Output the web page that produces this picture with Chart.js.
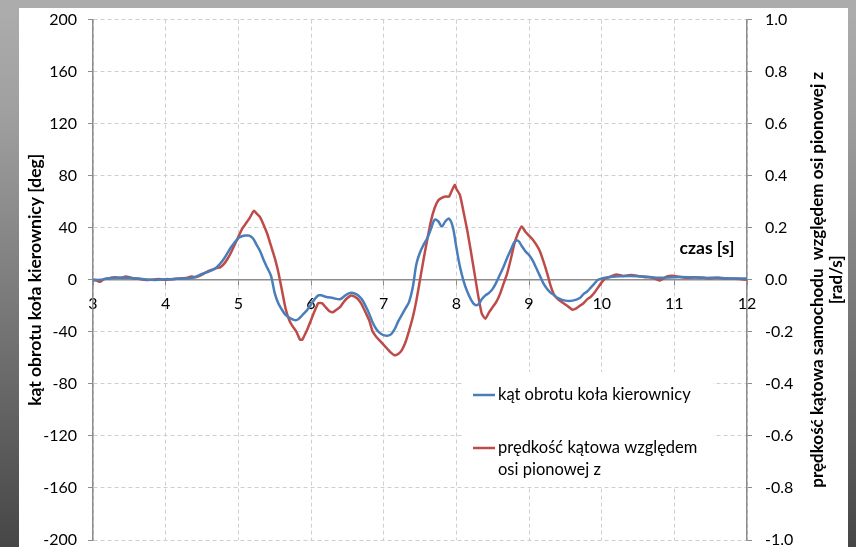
<!DOCTYPE html>
<html>
<head>
<meta charset="utf-8">
<script src="https://cdn.jsdelivr.net/npm/chart.js@4/dist/chart.umd.min.js"></script>
<style>
  html, body {
    margin: 0; padding: 0; width: 856px; height: 547px; overflow: hidden;
    background: linear-gradient(to bottom, #adadad 0%, #a0a0a0 20%, #7a7a7a 55%, #464646 100%);
  }
  #panel { position: absolute; left: 19px; top: 8px; width: 829px; height: 600px; background: #ffffff; }
  #wrap { position: absolute; left: 0; top: -3px; width: 856px; height: 570px; }
</style>
</head>
<body>
<div id="panel"></div>
<div id="wrap"><canvas id="c" width="856" height="570"></canvas></div>
<script>
// Steering wheel angle [deg] over time [s]
const steerTime = [3.0,3.1,3.2,3.3,3.4,3.5,3.6,3.7,3.8,3.9,4.0,4.1,4.2,4.3,4.4,4.5,4.6,4.7,4.8,4.9,
  5.0,5.05,5.1,5.15,5.2,5.25,5.3,5.35,5.4,5.45,5.5,5.55,5.6,5.65,5.7,5.75,5.8,5.85,5.9,5.95,
  6.0,6.05,6.1,6.15,6.2,6.3,6.4,6.45,6.5,6.55,6.6,6.65,6.7,6.75,6.8,6.85,6.9,6.95,
  7.0,7.05,7.1,7.15,7.2,7.25,7.3,7.35,7.4,7.45,7.5,7.55,7.6,7.65,7.7,7.75,7.8,7.85,7.9,7.95,
  8.0,8.05,8.1,8.15,8.2,8.25,8.3,8.35,8.4,8.45,8.5,8.55,8.6,8.65,8.7,8.75,8.8,8.85,8.9,8.95,
  9.0,9.05,9.1,9.15,9.2,9.25,9.3,9.35,9.4,9.5,9.6,9.7,9.75,9.8,9.85,9.9,9.95,
  10.0,10.1,10.2,10.4,10.6,10.8,11.0,11.2,11.4,11.6,11.8,12.0];
const steerAngle = [0,0,1,1.5,1.5,1.5,1,0.5,0,0,0.5,0.5,1,1,2,4.5,6.5,9.5,16,25,
  32,33.5,34,34,32,27,22,15,9,3,-10,-18,-23,-27,-29,-30.5,-31,-29,-26,-23,
  -19,-15,-12,-12,-13,-14,-15,-13,-11,-10,-10.5,-12,-15,-20,-26,-33,-38,-41,
  -42.5,-43,-42,-38,-32,-27,-22,-17,-6,12,21,27,32,39,46,45,41,45,47,41,
  25,10,-1,-9,-15,-19,-19,-15,-12,-10,-7,-2,4,10,17,23,29,30,26,22,
  19,15,9,3,-3,-7,-10,-12,-14,-16,-16,-14,-11,-9,-6,-3,0,
  1,2,2.5,3,2.5,1.5,2,2,1.5,1.5,1,1];

// Yaw rate about the vertical axis [rad/s] over time [s]
const yawTime = [3.0,3.05,3.1,3.15,3.2,3.25,3.3,3.35,3.4,3.45,3.5,3.55,3.6,3.7,3.8,3.9,
  4.0,4.1,4.2,4.3,4.35,4.4,4.45,4.5,4.55,4.6,4.65,4.7,4.75,4.8,4.85,4.9,4.95,
  5.0,5.05,5.1,5.15,5.2,5.22,5.25,5.3,5.35,5.4,5.45,5.5,5.55,5.6,5.65,5.7,5.75,5.8,5.85,5.88,5.9,5.95,
  6.0,6.05,6.1,6.15,6.2,6.25,6.3,6.35,6.4,6.45,6.5,6.55,6.6,6.65,6.7,6.75,6.8,6.85,6.9,6.95,
  7.0,7.05,7.1,7.15,7.2,7.25,7.3,7.35,7.4,7.45,7.5,7.55,7.6,7.65,7.7,7.75,7.8,7.85,7.9,7.95,7.98,
  8.0,8.05,8.1,8.15,8.2,8.25,8.3,8.35,8.4,8.45,8.5,8.55,8.6,8.65,8.7,8.75,8.8,8.85,8.9,8.95,
  9.0,9.05,9.1,9.15,9.2,9.25,9.3,9.35,9.4,9.45,9.5,9.55,9.6,9.65,9.7,9.75,9.8,9.85,9.9,9.95,
  10.0,10.05,10.1,10.2,10.3,10.4,10.5,10.6,10.7,10.8,10.9,
  11.0,11.1,11.2,11.3,11.4,11.5,11.6,11.7,11.8,11.9,12.0];
const yawRate = [0,-0.003,-0.008,0.003,0.005,0.008,0.01,0.008,0.008,0.013,0.01,0.005,0.005,0,0,0.003,
  0,0.003,0.005,0.008,0.013,0.01,0.013,0.02,0.028,0.035,0.04,0.045,0.048,0.06,0.08,0.105,0.135,
  0.165,0.195,0.215,0.235,0.26,0.265,0.255,0.24,0.21,0.175,0.13,0.085,0.03,-0.04,-0.11,-0.155,-0.18,-0.2,-0.23,-0.23,-0.22,-0.19,
  -0.155,-0.12,-0.09,-0.09,-0.105,-0.12,-0.125,-0.115,-0.105,-0.085,-0.07,-0.06,-0.065,-0.075,-0.095,-0.125,-0.155,-0.2,-0.22,-0.235,
  -0.25,-0.265,-0.28,-0.29,-0.285,-0.27,-0.24,-0.195,-0.145,-0.08,0,0.08,0.155,0.225,0.275,0.305,0.315,0.32,0.32,0.35,0.365,
  0.35,0.325,0.26,0.19,0.11,0.025,-0.06,-0.13,-0.15,-0.125,-0.105,-0.085,-0.055,-0.015,0.025,0.08,0.14,0.18,0.205,0.185,
  0.17,0.155,0.135,0.11,0.07,0.025,-0.025,-0.06,-0.075,-0.085,-0.095,-0.105,-0.115,-0.11,-0.1,-0.09,-0.075,-0.065,-0.05,-0.03,
  -0.01,0.005,0.01,0.02,0.015,0.018,0.015,0.01,0.008,-0.003,0.013,
  0.015,0.01,0.008,0.01,0.008,0.005,0.008,0.005,0.005,0.003,0];

const xTicks = [3,4,5,6,7,8,9,10,11,12];
const leftTicks = [-200,-160,-120,-80,-40,0,40,80,120,160,200];
const rightTicks = [-1.0,-0.8,-0.6,-0.4,-0.2,0.0,0.2,0.4,0.6,0.8,1.0];

const seriesNames = ['kąt obrotu koła kierownicy', 'prędkość kątowa względem', 'osi pionowej z'];
const xTitle = 'czas [s]';
const leftTitle = 'kąt obrotu koła kierownicy [deg]';
const rightTitle = ['prędkość kątowa samochodu  względem osi pionowej z', '[rad/s]'];

const BLUE = '#4a7ebb';
const RED = '#be4b48';
const FONT = 'Lato, "Open Sans", sans-serif';
const GRID = '#cfcfcf';
const AXIS = '#8c8c8c';

const steerPts = steerTime.map((t, i) => ({x: t, y: steerAngle[i]}));
const yawPts = yawTime.map((t, i) => ({x: t, y: yawRate[i]}));

// Axis titles and the boxed legend inside the plot
const decorations = {
  id: 'decorations',
  afterDraw(chart) {
    const ctx = chart.ctx;
    const area = chart.chartArea;
    const midY = (area.top + area.bottom) / 2;
    ctx.save();
    ctx.fillStyle = '#000';
    ctx.textBaseline = 'middle';

    // x title
    ctx.font = 'bold 17.5px ' + FONT;
    ctx.textAlign = 'center';
    ctx.fillText(xTitle, 707, 251);

    // left title
    ctx.save();
    ctx.translate(35, midY);
    ctx.rotate(-Math.PI / 2);
    ctx.fillText(leftTitle, 0, 0);
    ctx.restore();

    // right title (two lines)
    ctx.font = 'bold 17px ' + FONT;
    ctx.save();
    ctx.translate(818, midY);
    ctx.rotate(-Math.PI / 2);
    ctx.fillText(rightTitle[0], 0, 0);
    ctx.restore();
    ctx.save();
    ctx.translate(837, midY);
    ctx.rotate(-Math.PI / 2);
    ctx.fillText(rightTitle[1], 0, 0);
    ctx.restore();

    // legend box
    ctx.fillStyle = '#ffffff';
    ctx.fillRect(463, 375, 250, 115);
    ctx.lineWidth = 2.5;
    ctx.strokeStyle = BLUE;
    ctx.beginPath(); ctx.moveTo(473, 398); ctx.lineTo(495, 398); ctx.stroke();
    ctx.strokeStyle = RED;
    ctx.beginPath(); ctx.moveTo(473, 451); ctx.lineTo(495, 451); ctx.stroke();
    ctx.fillStyle = '#000';
    ctx.font = '16.5px ' + FONT;
    ctx.textAlign = 'left';
    ctx.fillText(seriesNames[0], 498, 398);
    ctx.fillText(seriesNames[1], 498, 451);
    ctx.fillText(seriesNames[2], 498, 473);
    ctx.restore();
  }
};

new Chart(document.getElementById('c'), {
  type: 'line',
  data: {
    datasets: [
      {
        label: seriesNames[0],
        data: steerPts,
        yAxisID: 'y',
        borderColor: BLUE,
        borderWidth: 2.5,
        pointRadius: 0,
        tension: 0.35,
        fill: false
      },
      {
        label: seriesNames[1] + ' ' + seriesNames[2],
        data: yawPts,
        yAxisID: 'y1',
        borderColor: RED,
        borderWidth: 2.5,
        pointRadius: 0,
        tension: 0.15,
        fill: false
      }
    ]
  },
  options: {
    responsive: false,
    animation: false,
    events: [],
    layout: { padding: { left: 19, right: 0, top: 19, bottom: 27 } },
    plugins: { legend: { display: false }, tooltip: { enabled: false } },
    scales: {
      x: {
        type: 'linear',
        position: { y: 0 },
        min: 3, max: 12,
        afterBuildTicks: s => { s.ticks = xTicks.map(v => ({value: v})); },
        grid: { color: GRID, lineWidth: 1, tickLength: 5, tickColor: AXIS, tickBorderDash: [] },
        border: { display: true, color: AXIS, width: 1.5, dash: [4, 3] },
        ticks: { color: '#000', font: { family: FONT, size: 16 }, padding: 9, maxRotation: 0, autoSkip: false }
      },
      y: {
        position: 'left',
        min: -200, max: 200,
        afterBuildTicks: s => { s.ticks = leftTicks.map(v => ({value: v})); },
        afterFit: s => { s.width = 74; },
        grid: { color: GRID, lineWidth: 1, tickLength: 5, tickColor: AXIS, tickBorderDash: [] },
        border: { display: true, color: AXIS, width: 1.5, dash: [4, 3] },
        ticks: { color: '#000', font: { family: FONT, size: 16 }, padding: 11 }
      },
      y1: {
        position: 'right',
        min: -1, max: 1,
        afterBuildTicks: s => { s.ticks = rightTicks.map(v => ({value: v})); },
        afterFit: s => { s.width = 109; },
        grid: { drawOnChartArea: false, tickLength: 5, tickColor: AXIS, tickBorderDash: [] },
        border: { display: true, color: AXIS, width: 1.5 },
        ticks: { color: '#000', font: { family: FONT, size: 16 }, padding: 13,
                 callback: v => v.toFixed(1) }
      }
    }
  },
  plugins: [decorations]
});
</script>
</body>
</html>
